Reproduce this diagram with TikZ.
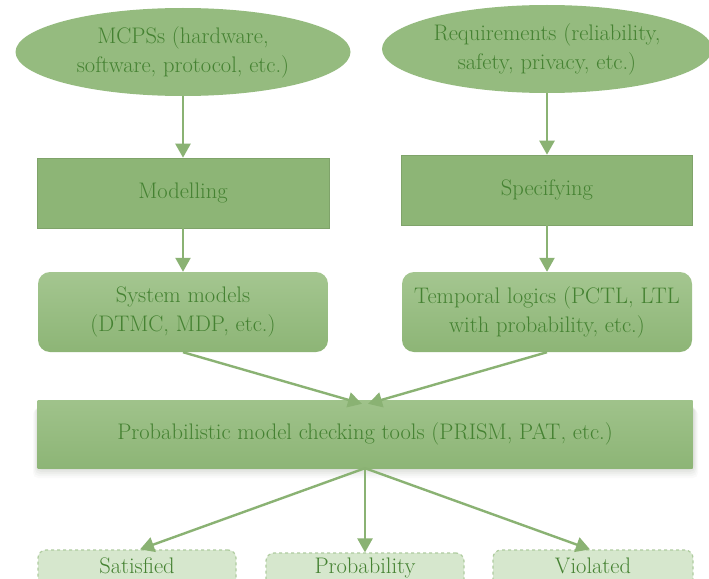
\documentclass[tikz,border=0pt]{standalone}
\usetikzlibrary{shapes.geometric,arrows.meta}
\definecolor{boxgreen}{HTML}{8DB576}
\definecolor{ellgreen}{HTML}{95BB7F}
\definecolor{txtgreen}{HTML}{458232}
\definecolor{arrgreen}{HTML}{8AB273}
\definecolor{lightgreen}{HTML}{D6E7CD}
\definecolor{dashgreen}{HTML}{AFCC9F}
\definecolor{topgreen}{HTML}{A4C690}
\definecolor{shadowgreen}{HTML}{6E7F64}
\tikzset{
  base/.style={text=txtgreen, font=\fontsize{22.5}{29}\selectfont, align=center, inner sep=0pt},
  ellbox/.style={base, ellipse, fill=ellgreen},
  rectbox/.style={base, rectangle, fill=boxgreen, draw=boxgreen!90!black, line width=0.6pt},
  roundbox/.style={base, rectangle, rounded corners=12pt, top color=topgreen, bottom color=boxgreen},
  resbox/.style={base, rectangle, rounded corners=8pt, fill=lightgreen, draw=dashgreen, dashed, line width=1.2pt},
  conn/.style={draw=arrgreen, line width=2.4pt, -{Triangle[length=14pt,width=15pt]}}
}
\begin{document}
\begin{tikzpicture}[x=1pt,y=-1pt]
\useasboundingbox (0,0) rectangle (709,578);
\clip (0,0) rectangle (709,578);
\fill[white] (0,0) rectangle (709,578);
\node[ellbox, minimum width=335pt, minimum height=88pt] (e1) at (183,52) {MCPSs (hardware,\\ software, protocol, etc.)};
\node[ellbox, minimum width=330pt, minimum height=88pt] (e2) at (547,49) {Requirements (reliability,\\ safety, privacy, etc.)};
\node[rectbox, minimum width=292pt, minimum height=70pt] (m) at (183,193) {Modelling};
\node[rectbox, minimum width=291pt, minimum height=70pt] (s) at (547,190) {Specifying};
\node[roundbox, minimum width=290pt, minimum height=80pt] (sm) at (183,312) {System models\\ (DTMC, MDP, etc.)};
\node[roundbox, minimum width=290pt, minimum height=80pt] (tl) at (547,312) {Temporal logics (PCTL, LTL\\ with probability, etc.)};
% soft shadow for main box
\foreach \i/\o in {10/0.03,8/0.04,6/0.05,4/0.06,2/0.07}{
  \fill[shadowgreen, opacity=\o, rounded corners=5pt] (38-\i/2,404+\i/2) rectangle (693+\i/2,468+\i);
}
\node[base, rectangle, top color=topgreen!80!boxgreen, bottom color=boxgreen, minimum width=655pt, minimum height=68pt] (pm) at (365,434) {Probabilistic model checking tools (PRISM, PAT, etc.)};
\node[resbox, minimum width=198pt, minimum height=56pt] (sat) at (137,578) {};
\node[resbox, minimum width=198pt, minimum height=56pt] (pro) at (365,581) {};
\node[resbox, minimum width=200pt, minimum height=56pt] (vio) at (593,578) {};
\node[base] at (137,566) {Satisfied};
\node[base] at (365,568) {Probability};
\node[base] at (593,566) {Violated};
\draw[conn] (e1.south) -- (m.north);
\draw[conn] (e2.south) -- (s.north);
\draw[conn] (m.south) -- (sm.north);
\draw[conn] (s.south) -- (tl.north);
\draw[conn] (sm.south) -- ([xshift=-3pt,yshift=-4pt]pm.north);
\draw[conn] (tl.south) -- ([xshift=3pt,yshift=-4pt]pm.north);
\draw[conn] (pm.south) -- ([xshift=3pt]sat.north);
\draw[conn] (pm.south) -- (pro.north);
\draw[conn] (pm.south) -- ([xshift=-3pt]vio.north);
\end{tikzpicture}
\end{document}
